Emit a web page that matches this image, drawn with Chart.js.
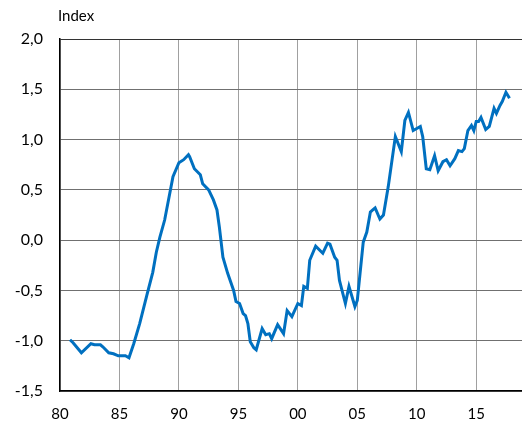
<!DOCTYPE html>
<html>
<head>
<meta charset="utf-8">
<script src="https://cdn.jsdelivr.net/npm/chart.js@4.4.1/dist/chart.umd.min.js"></script>
<style>
    body { margin: 0; background: #fff; }
    #wrap { width: 522px; height: 421px; overflow: hidden; }
</style>
</head>
<body>
<div id="wrap"><canvas id="indexChart" width="522" height="421"></canvas></div>
<script>
// Values (decimal year, index value)
const years = [
    1980.84, 1981.1, 1981.8, 1982.6, 1982.9, 1983.4, 1983.6, 1984.1, 1984.5, 1984.9,
    1985.5, 1985.8, 1986.2, 1986.7, 1987.3, 1987.8, 1988.1, 1988.4, 1988.8, 1989.5,
    1990.0, 1990.4, 1990.8, 1990.9, 1991.3, 1991.8, 1992.0, 1992.5, 1992.9, 1993.2,
    1993.4, 1993.7, 1994.1, 1994.6, 1994.8, 1995.1, 1995.4, 1995.6, 1995.8, 1996.0,
    1996.3, 1996.5, 1997.0, 1997.3, 1997.6, 1997.8, 1998.3, 1998.8, 1999.1, 1999.5,
    2000.0, 2000.3, 2000.5, 2000.8, 2001.0, 2001.5, 2002.1, 2002.5, 2002.7, 2003.1,
    2003.3, 2003.5, 2004.0, 2004.3, 2004.8, 2005.0, 2005.5, 2005.8, 2006.1, 2006.3,
    2006.5, 2006.9, 2007.2, 2007.6, 2008.2, 2008.7, 2009.0, 2009.3, 2009.7, 2010.0,
    2010.3, 2010.5, 2010.8, 2011.1, 2011.5, 2011.8, 2012.2, 2012.5, 2012.8, 2013.2,
    2013.5, 2013.8, 2014.0, 2014.3, 2014.6, 2014.8, 2015.0, 2015.2, 2015.4, 2015.8,
    2016.1, 2016.5, 2016.7, 2017.0, 2017.2, 2017.5, 2017.8
];
const indexValues = [
    -0.99, -1.02, -1.12, -1.03, -1.04, -1.04, -1.06, -1.12, -1.13, -1.15,
    -1.15, -1.17, -1.03, -0.83, -0.55, -0.32, -0.12, 0.03, 0.20, 0.63,
    0.77, 0.80, 0.85, 0.83, 0.71, 0.65, 0.56, 0.50, 0.40, 0.30,
    0.13, -0.17, -0.33, -0.50, -0.61, -0.63, -0.73, -0.75, -0.83, -1.01,
    -1.07, -1.09, -0.88, -0.94, -0.93, -0.98, -0.84, -0.93, -0.70, -0.76,
    -0.63, -0.65, -0.46, -0.48, -0.20, -0.06, -0.13, -0.03, -0.04, -0.17,
    -0.20, -0.40, -0.63, -0.46, -0.66, -0.60, -0.02, 0.08, 0.28, 0.30,
    0.32, 0.21, 0.25, 0.53, 1.03, 0.88, 1.19, 1.27, 1.09, 1.11,
    1.13, 1.03, 0.71, 0.70, 0.84, 0.69, 0.78, 0.80, 0.74, 0.81,
    0.89, 0.88, 0.91, 1.09, 1.14, 1.09, 1.18, 1.18, 1.22, 1.10,
    1.13, 1.31, 1.26, 1.34, 1.38, 1.47, 1.41
];
const xTicks = [1980, 1985, 1990, 1995, 2000, 2005, 2010, 2015];
const yTicks = [-1.5, -1.0, -0.5, 0.0, 0.5, 1.0, 1.5, 2.0];

Chart.defaults.font.family = 'Lato, "Open Sans", sans-serif';
Chart.defaults.color = '#000';

// "Index" unit label above the y axis
const unitLabel = {
    id: 'unitLabel',
    afterDraw(chart) {
        const c = chart.ctx;
        c.save();
        c.font = '15px Lato, sans-serif';
        c.fillStyle = '#000';
        c.textBaseline = 'alphabetic';
        c.fillText('Index', 58, 21);
        c.restore();
    }
};

new Chart(document.getElementById('indexChart'), {
    type: 'line',
    data: {
        datasets: [{
            data: years.map((y, i) => ({ x: y, y: indexValues[i] })),
            borderColor: '#0070C0',
            borderWidth: 3,
            pointRadius: 0,
            tension: 0,
            fill: false
        }]
    },
    options: {
        responsive: false,
        animation: false,
        layout: { padding: { top: 39, left: 0, right: 0, bottom: 0 } },
        plugins: {
            legend: { display: false },
            tooltip: { enabled: false }
        },
        scales: {
            x: {
                type: 'linear',
                min: 1980,
                max: 2018.85,
                afterBuildTicks: axis => { axis.ticks = xTicks.map(v => ({ value: v })); },
                afterFit: scale => { scale.height = 30; },
                ticks: {
                    padding: 14,
                    maxRotation: 0,
                    font: { size: 15 },
                    callback: v => String(v % 100).padStart(2, '0')
                },
                grid: {
                    drawTicks: false,
                    color: '#a0a0a0',
                    lineWidth: 1
                },
                border: { color: '#000', width: 1.5 }
            },
            y: {
                min: -1.5,
                max: 2.0,
                afterBuildTicks: axis => { axis.ticks = yTicks.map(v => ({ value: v })); },
                afterFit: scale => { scale.width = 60; },
                ticks: {
                    padding: 17,
                    font: { size: 16 },
                    callback: v => v.toFixed(1).replace('.', ',')
                },
                grid: {
                    drawTicks: false,
                    color: ctx => ctx.tick && ctx.tick.value === 2.0 ? '#333' : '#707070',
                    lineWidth: 1
                },
                border: { color: '#000', width: 1.5 }
            }
        }
    },
    plugins: [unitLabel]
});
</script>
</body>
</html>
